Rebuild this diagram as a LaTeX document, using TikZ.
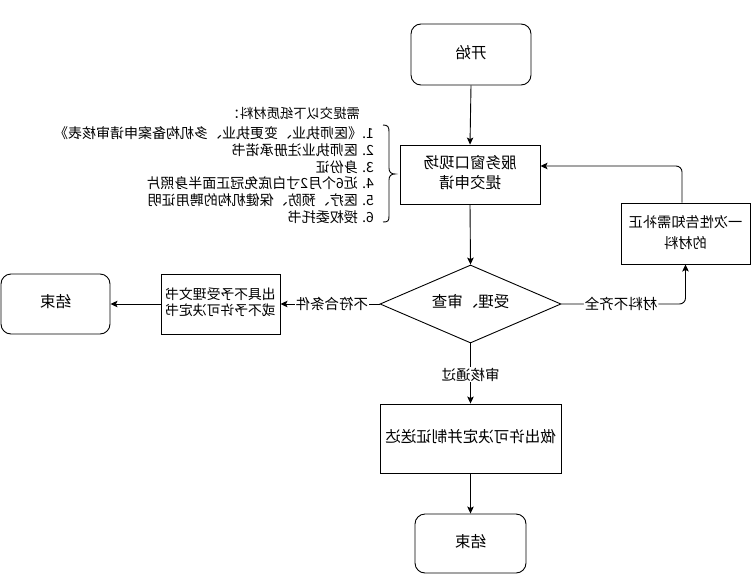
\documentclass[tikz,border=0pt]{standalone}
\usepackage{fontspec}
\usepackage{graphicx}
\setmainfont{Noto Sans CJK SC}
\usetikzlibrary{arrows.meta,shapes.geometric}
\newcommand{\mirtxt}[1]{\reflectbox{\begin{tabular}{@{}c@{}}#1\end{tabular}}}
\newcommand{\mirlist}[1]{\reflectbox{\begin{tabular}{@{}l@{}}#1\end{tabular}}}
\begin{document}
\begin{tikzpicture}[x=1pt,y=-1pt,
  box/.style={draw, line width=0.9pt, inner sep=0pt, font=\fontsize{15.5}{19.5}\selectfont},
  roundbox/.style={box, rounded corners=10pt},
  smallbox/.style={box, font=\fontsize{13.8}{16}\selectfont},
  arr/.style={-{Stealth[length=7pt,width=6.5pt,inset=1.5pt]}, line width=0.9pt},
  lbl/.style={fill=white, inner sep=1pt, font=\fontsize{14.5}{16}\selectfont}]
\useasboundingbox (0,0) rectangle (751,575);

\node[roundbox, minimum width=120pt, minimum height=61pt] (start) at (471,54.5) {\mirtxt{开始}};
\node[box, minimum width=140pt, minimum height=59pt] (submit) at (470,174.5) {\mirtxt{服务窗口现场\\提交申请}};
\node[box, diamond, aspect=2.3, minimum width=181pt, minimum height=78pt] (decide) at (470.5,304) {\mirtxt{受理、审查}};
\node[smallbox, minimum width=119pt, minimum height=60pt] (reject) at (220.5,304) {\mirtxt{出具不予受理文书\\或不予许可决定书}};
\node[roundbox, minimum width=109pt, minimum height=60pt] (endA) at (55.5,304) {\mirtxt{结束}};
\node[box, font=\fontsize{14.2}{21}\selectfont, minimum width=129pt, minimum height=61pt] (notify) at (685.5,233.5) {\mirtxt{一次性告知需补正\\的材料}};
\node[box, minimum width=181pt, minimum height=69pt] (permit) at (470.5,438.5) {\mirtxt{做出许可决定并制证送达}};
\node[roundbox, minimum width=111pt, minimum height=59pt] (endB) at (470.5,543.5) {\mirtxt{结束}};

\node[anchor=east, inner sep=0pt, font=\fontsize{13.3}{16}\selectfont] (head) at (360,113) {\reflectbox{需提交以下纸质材料：}};
\node[anchor=north east, inner sep=0pt, font=\fontsize{14}{16.4}\selectfont] (list) at (374,126.5) {\mirlist{1.《医师执业、变更执业、多机构备案申请审核表》\\2. 医师执业注册承诺书\\3. 身份证\\4. 近6个月2寸白底免冠正面半身照片\\5. 医疗、预防、保健机构的聘用证明\\6. 授权委托书}};

\draw[line width=0.9pt] (383,125) .. controls (388,125) and (389,127) .. (389,132) -- (389,168)
  .. controls (389,172) and (391,174) .. (395,174) .. controls (391,174) and (389,176) .. (389,180)
  -- (389,216) .. controls (389,221) and (388,222) .. (383,222);

\draw[arr] (start.south) -- (submit.north);
\draw[arr] (submit.south) -- (decide.north);
\draw[arr, rounded corners=6pt] (decide.east) -| node[lbl, pos=0.24] {\reflectbox{材料不齐全}} (notify.south);
\draw[arr, rounded corners=6pt] ([xshift=-3.5pt]notify.north) |- ([yshift=8.5pt]submit.east);
\draw[arr] (decide.west) -- node[lbl, pos=0.48] {\reflectbox{不符合条件}} (reject.east);
\draw[arr] (reject.west) -- (endA.east);
\draw[arr] (decide.south) -- node[lbl, pos=0.52] {\reflectbox{审核通过}} (permit.north);
\draw[arr] (permit.south) -- (endB.north);
\end{tikzpicture}
\end{document}
